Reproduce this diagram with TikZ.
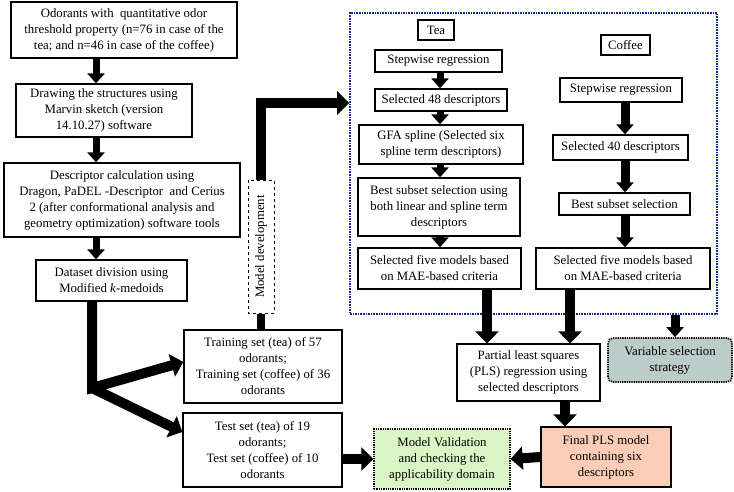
\documentclass[tikz,border=0pt]{standalone}
\usepackage{fontspec}
\setmainfont{Liberation Serif}
\usetikzlibrary{arrows.meta}
\definecolor{selblue}{HTML}{1A2A8C}
\definecolor{vargray}{HTML}{BCCCC8}
\definecolor{finalpink}{HTML}{FBCDB6}
\definecolor{validgreen}{HTML}{DAF4C4}
\tikzstyle{block} = [rectangle, draw, line width=1.3pt, fill=white, align=center, inner sep=1pt]
\tikzstyle{tag} = [rectangle, draw, line width=1.3pt, align=center, inner sep=1pt]
\tikzstyle{line} = [draw, line width=7pt, -{Triangle[width=17pt,length=10pt]}]
\tikzstyle{wide line} = [draw, line width=10pt, -{Triangle[width=23pt,length=12pt]}]
\tikzstyle{bar} = [draw, line width=8pt]

\begin{document}
\begin{tikzpicture}[x=1pt, y=-1pt, font=\fontsize{12.8}{16}\selectfont]
		\useasboundingbox (0,0) rectangle (734,491);
		\coordinate (spine) at (96,0);
		\coordinate (teax) at (440,0);
		\coordinate (cofx) at (625,0);
		\coordinate (split) at (92,388);
		% left column
		\node [block, minimum width=226pt, minimum height=56pt] (odor) at (124,30) {Odorants with\ \ quantitative odor\\threshold property (n=76 in case of the\\tea; and n=46 in case of the coffee)};
		\node [block, minimum width=176pt, minimum height=53pt] (drawing) at (104,110.5) {Drawing the structures using\\Marvin sketch (version\\14.10.27) software};
		\node [block, minimum width=236pt, minimum height=74pt] (calc) at (122,200) {Descriptor calculation using\\Dragon, PaDEL -Descriptor\ \ and Cerius\\2 (after conformational analysis and\\geometry optimization) software tools};
		\node [block, minimum width=151pt, minimum height=41pt] (divide) at (111.5,280.5) {Dataset division using\\Modified \textit{k}-medoids};
		\node [block, minimum width=158pt, minimum height=73pt] (train) at (263,366.5) {Training set (tea) of 57\\odorants;\\Training set (coffee) of 36\\odorants};
		\node [block, minimum width=159pt, minimum height=74pt] (test) at (262.5,450) {Test set (tea) of 19\\odorants;\\Test set (coffee) of 10\\odorants};
		\node [block, dashed, line width=1pt, rotate=90, minimum width=133pt, minimum height=26pt] (mdev) at (261,246.5) {Model development};
		% variable selection
		\node [draw=selblue, densely dotted, line width=1.6pt, minimum width=367pt, minimum height=301pt] (selbox) at (533.5,163.5) {};
		\node [tag, minimum width=36pt, minimum height=20pt] (tea) at (436,30) {Tea};
		\node [block, minimum width=127pt, minimum height=22pt] (sw1) at (438.5,61) {Stepwise regression};
		\node [block, minimum width=132pt, minimum height=22pt] (sel48) at (441,100) {Selected 48 descriptors};
		\node [block, minimum width=164pt, minimum height=39pt] (gfa) at (441,144.5) {GFA spline (Selected six\\spline term descriptors)};
		\node [block, minimum width=162pt, minimum height=58pt] (bst1) at (439,207) {Best subset selection using\\both linear and spline term\\descriptors};
		\node [block, minimum width=163pt, minimum height=41pt] (five1) at (439.5,268.5) {Selected five models based\\on MAE-based criteria};
		\node [tag, minimum width=49pt, minimum height=20pt] (coffee) at (625.5,45) {Coffee};
		\node [block, minimum width=122pt, minimum height=24pt] (sw2) at (621,90) {Stepwise regression};
		\node [block, minimum width=135pt, minimum height=25pt] (sel40) at (620.5,147.5) {Selected 40 descriptors};
		\node [block, minimum width=131pt, minimum height=22pt] (bst2) at (624.5,204) {Best subset selection};
		\node [block, minimum width=174pt, minimum height=41pt] (five2) at (623,268.5) {Selected five models based\\on MAE-based criteria};
		% final steps
		\node [block, minimum width=143pt, minimum height=57pt] (pls) at (528.5,372.5) {Partial least squares\\(PLS) regression using\\selected descriptors};
		\node [block, fill=vargray, densely dotted, line width=1.8pt, rounded corners=5pt, minimum width=124pt, minimum height=44pt] (varsel) at (670,360) {Variable selection\\strategy};
		\node [block, fill=finalpink, minimum width=130pt, minimum height=60pt] (final) at (606,457) {Final PLS model\\containing six\\descriptors};
		\node [block, fill=validgreen, densely dotted, minimum width=136pt, minimum height=60pt] (valid) at (442,459) {Model Validation\\and checking the\\applicability domain};
		\coordinate (plsin1) at ([xshift=-41.5pt]pls.north);
		\coordinate (plsin2) at ([xshift=41.5pt]pls.north);
		\coordinate (plsout) at ([xshift=36.5pt]pls.south);
		\coordinate (varin) at ([xshift=5pt]varsel.north);
		% connectors
		\path [line] (odor.south -| spine) -- (drawing.north -| spine);
		\path [line] (drawing.south -| spine) -- (calc.north -| spine);
		\path [line] (calc.south -| spine) -- (divide.north -| spine);
		\path [wide line] (divide.south -| split) -- (split) -- ([yshift=4.5pt]train.west);
		\path [wide line] (split) -- ([yshift=18pt]test.west);
		\path [bar] (train.north -| mdev.west) -- (mdev.west);
		\path [wide line] (mdev.east) |- ([yshift=60.5pt]selbox.west);
		\path [line] (sw1.south -| teax) -- (sel48.north -| teax);
		\path [line] (sel48.south -| teax) -- (gfa.north -| teax);
		\path [line] (gfa.south -| teax) -- (bst1.north -| teax);
		\path [line] (bst1.south -| teax) -- (five1.north -| teax);
		\path [line, line width=9pt] (sw2.south -| cofx) -- (sel40.north -| cofx);
		\path [line, line width=9pt] (sel40.south -| cofx) -- (bst2.north -| cofx);
		\path [line, line width=9pt] (bst2.south -| cofx) -- (five2.north -| cofx);
		\path [wide line] (five1.south -| plsin1) -- (plsin1);
		\path [wide line] (five2.south -| plsin2) -- (plsin2);
		\path [line, line width=9pt] (selbox.south -| varin) -- (varin);
		\path [wide line] (plsout) -- (final.north -| plsout);
		\path [wide line] (final.west) -- (valid.east);
		\path [wide line] (test.east |- valid.west) -- (valid.west);
	\end{tikzpicture}
\end{document}
